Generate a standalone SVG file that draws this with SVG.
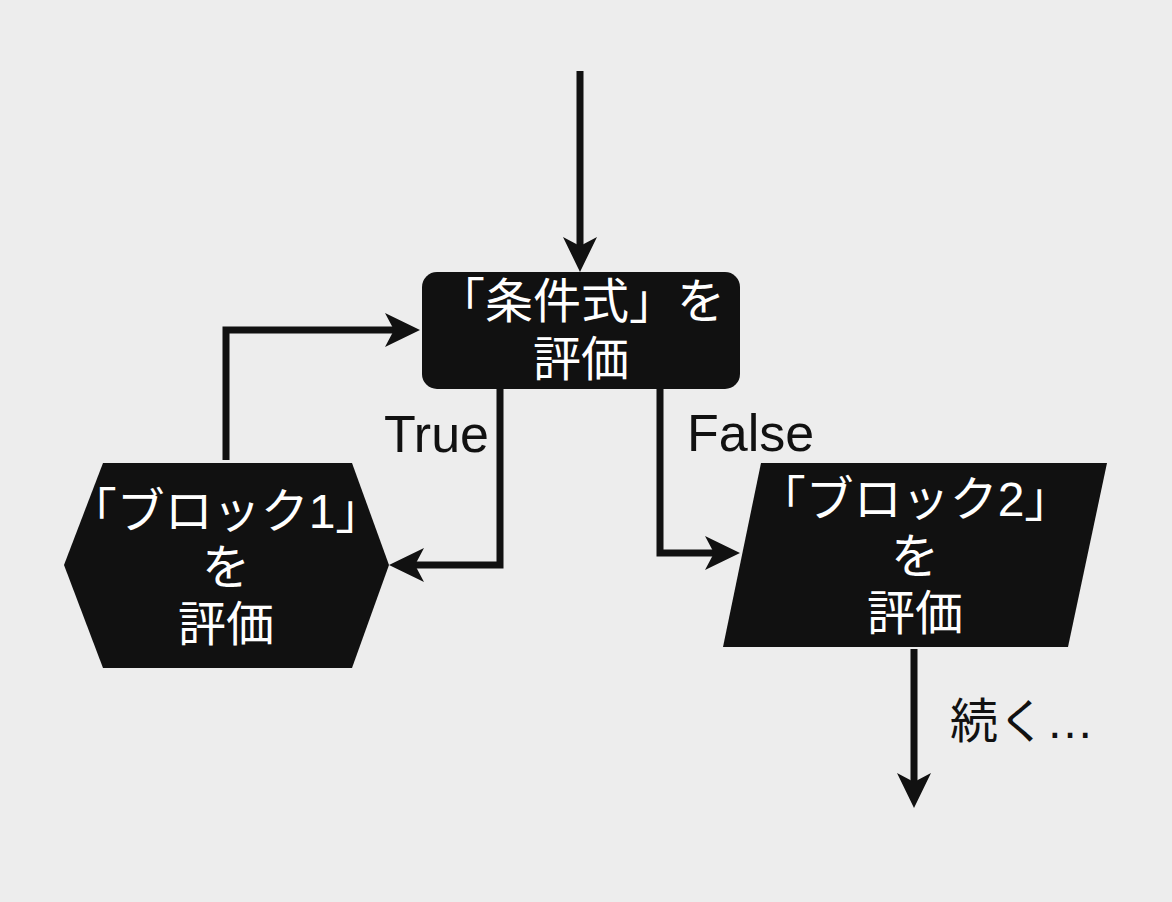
<svg xmlns="http://www.w3.org/2000/svg" width="1172" height="902" viewBox="0 0 1172 902">
  <style>
    .node { fill: #111111; }
    .ntext { fill: #ffffff; font-family: "Liberation Sans", "Noto Sans CJK JP", sans-serif; font-size: 48px; text-anchor: middle; }
    .label { fill: #111111; font-family: "Liberation Sans", "Noto Sans CJK JP", sans-serif; font-size: 52px; }
    .clabel { fill: #111111; font-family: "Liberation Sans", "Noto Sans CJK JP", sans-serif; font-size: 48px; }
    .edge { fill: none; stroke: #111111; stroke-width: 7; stroke-linejoin: miter; }
  </style>
  <defs>
    <marker id="arrow" markerUnits="userSpaceOnUse" markerWidth="40" markerHeight="40" refX="9" refY="17" orient="auto">
      <path d="M0,0 L35,17 L0,34 L9,17 Z" fill="#111111"/>
    </marker>
  </defs>
  <rect x="0" y="0" width="1172" height="902" fill="#ededed"/>

  <g id="connectors">
    <path class="edge" d="M580,71 V246" marker-end="url(#arrow)"/>
    <path class="edge" d="M226,460 V330 H394" marker-end="url(#arrow)"/>
    <path class="edge" d="M500,389 V565 H415" marker-end="url(#arrow)"/>
    <path class="edge" d="M660,389 V553 H714" marker-end="url(#arrow)"/>
    <path class="edge" d="M914,649 V782" marker-end="url(#arrow)"/>
    <text class="label" x="384" y="452">True</text>
    <text class="label" x="687" y="451">False</text>
    <text class="clabel" x="950" y="738">続く…</text>
  </g>

  <g id="node-condition">
    <rect class="node" x="422" y="272" width="318" height="117" rx="15" ry="15"/>
    <text class="ntext" x="581" y="318">「条件式」を</text>
    <text class="ntext" x="581" y="376">評価</text>
  </g>

  <g id="node-block1">
    <polygon class="node" points="103,463 352,463 389,565 352,668 103,668 64,565"/>
    <text class="ntext" x="226" y="528">「ブロック1」</text>
    <text class="ntext" x="226" y="584">を</text>
    <text class="ntext" x="226" y="641">評価</text>
  </g>

  <g id="node-block2">
    <polygon class="node" points="761,463 1107,463 1068,647 723,647"/>
    <text class="ntext" x="915" y="516">「ブロック2」</text>
    <text class="ntext" x="915" y="573">を</text>
    <text class="ntext" x="915" y="630">評価</text>
  </g>
</svg>
